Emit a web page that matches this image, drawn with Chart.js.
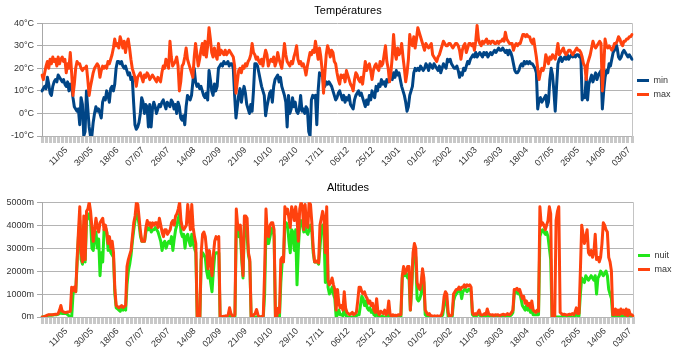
<!DOCTYPE html>
<html>
<head>
<meta charset="utf-8">
<script src="https://cdn.jsdelivr.net/npm/chart.js@4.4.1/dist/chart.umd.min.js"></script>
<style>
html,body{margin:0;padding:0;background:#fff;}
#wrap{position:relative;width:680px;height:350px;background:#fff;}
canvas{position:absolute;left:0;}
#c1{top:0;}
#c2{top:175px;}
</style>
</head>
<body>
<div id="wrap">
<canvas id="c1" width="680" height="175"></canvas>
<canvas id="c2" width="680" height="175"></canvas>
</div>
<script>
// ---- data ----
const tickLabels = ['11/05','30/05','18/06','07/07','26/07','14/08','02/09','21/09','10/10','29/10','17/11','06/12','25/12','13/01','01/02','20/02','11/03','30/03','18/04','07/05','26/05','14/06','03/07'];

const tMin = [
10,11,12,11,16,13,9,8,12,14,15,14,17,16,15,14,15,13,
12,14,10,13,12,7,3,2,1,2,-5,7,4,-10,-8,10,2,-6,-10,
-10,-4,0,3,1,2,0,-2,5,7,6,10,8,5,11,12,10,13,20,
23,23,22,23,21,20,21,19,17,18,15,16,5,-5,-7,-6,-4,0,7,
5,0,4,3,-6,4,-6,2,5,3,0,2,4,3,5,6,4,2,5,
4,3,6,5,2,4,0,5,3,-2,-3,-1,-5,3,8,7,6,8,14,
20,14,12,13,11,12,10,8,7,9,6,19,15,10,8,13,10,12,20,
21,22,21,23,22,22,23,21,22,22,20,8,-2,3,8,11,5,9,12,
9,4,2,0,4,1,10,22,22,21,18,15,12,10,8,-1,3,6,9,
10,5,12,15,16,17,14,16,12,10,8,5,-6,8,0,2,7,3,5,
1,0,2,8,1,2,0,3,2,-8,-10,6,8,7,8,-5,10,18,17,
18,13,12,14,13,14,13,12,10,8,6,7,9,10,8,6,8,5,7,
6,8,4,3,2,6,8,9,10,8,9,7,5,3,6,4,8,6,10,
8,7,12,10,13,12,15,13,14,12,15,14,16,17,15,18,16,19,17,
18,15,12,10,8,5,1,3,8,10,12,18,20,19,20,19,21,20,19,
20,22,21,19,22,21,20,22,21,20,19,21,18,20,22,21,20,24,23,
24,22,21,20,20,21,19,16,18,17,20,19,21,23,22,24,25,26,25,
27,25,26,27,26,25,27,26,27,25,26,27,26,27,28,27,28,29,28,
28,29,28,27,28,26,28,27,25,22,19,18,18,19,21,22,21,23,22,
23,22,23,22,22,21,20,18,2,6,7,5,6,7,8,3,5,15,20,
17,10,1,12,22,24,25,23,24,25,24,26,24,25,26,25,26,25,26,
26,25,26,6,8,7,16,6,13,15,17,14,16,18,15,17,18,19,2,
10,16,19,18,22,21,24,27,28,31,29,25,24,25,27,28,27,26,25,
26,25,24
];

const tMax = [
17,15,18,21,23,20,24,22,25,23,24,21,25,22,24,25,23,24,
18,22,20,27,18,8,13,20,23,22,22,20,19,20,20,21,15,8,12,
15,18,20,21,22,21,16,19,21,20,21,20,23,22,24,26,29,33,30,
31,29,34,32,29,32,27,31,33,29,24,20,18,16,12,16,17,18,16,
14,17,16,18,17,15,16,17,16,15,14,16,15,14,18,21,20,24,22,
20,32,25,21,22,23,25,21,10,14,21,22,25,29,24,22,20,18,16,
25,31,26,21,24,28,31,26,32,25,30,38,33,27,25,29,26,24,31,
26,28,27,26,28,26,27,28,27,26,25,21,9,14,19,20,18,21,20,
22,21,23,24,26,31,27,26,24,25,23,22,24,21,25,28,26,21,23,
24,23,25,21,23,27,24,22,20,25,31,26,23,22,21,23,22,25,27,
30,24,22,23,21,22,20,17,21,24,27,26,28,27,32,28,24,29,25,
19,9,18,26,30,28,25,28,27,23,22,18,15,13,17,16,17,14,19,
17,15,13,12,10,15,18,17,15,14,16,13,18,23,19,21,22,19,15,
19,21,22,20,19,23,21,22,26,30,23,20,14,18,25,35,27,24,29,
26,27,31,25,20,14,18,24,35,31,30,34,29,33,38,36,34,32,30,
28,31,30,29,30,31,26,25,24,23,25,26,28,30,32,31,30,30,31,
31,30,29,30,31,31,30,28,24,28,30,31,27,29,31,31,30,31,28,
32,39,33,31,30,32,31,32,33,31,32,31,32,32,31,31,32,31,32,
32,33,32,36,33,32,31,31,31,28,30,31,30,31,31,33,35,35,34,
35,34,34,32,31,33,29,25,20,15,18,20,19,21,26,24,22,25,24,
26,25,24,27,31,26,27,28,29,27,26,27,28,28,27,26,27,28,29,
28,28,27,25,22,21,15,22,24,26,29,32,30,29,30,31,32,31,10,
20,33,30,29,30,29,28,29,31,31,32,34,33,31,30,32,32,33,33,
34,34,35
];

const altNight = [
0,0,20,40,60,80,80,80,90,100,100,100,120,150,200,150,150,150,
150,100,50,0,0,1000,1200,1100,2300,3500,4200,2500,2300,4000,2400,4200,4300,4500,4200,
3000,2900,3500,3700,3000,3400,1800,2800,2400,3800,3900,3700,2900,3200,2800,2700,2600,1000,400,
350,300,250,400,300,350,300,1400,2000,2300,2700,3300,3800,4200,4500,4400,4000,3500,3300,
3300,3300,3700,3900,3800,3900,3700,3800,3800,3900,3800,3700,3500,3300,2900,3200,3300,3000,3200,
3300,3200,3500,2900,3400,3800,4000,4300,4500,3700,3500,3600,3000,3500,3600,3300,3100,3600,3200,
3000,2800,0,0,0,2500,2800,2700,2600,2000,1700,2000,1500,1100,2000,2700,2800,2800,2800,
0,0,0,0,0,0,0,100,0,0,0,0,4000,3800,3500,3700,2500,1700,4000,
4000,3500,2700,2400,0,0,0,0,0,0,0,0,0,0,1000,3800,3200,3200,3500,
3800,3900,3500,0,0,0,0,1500,2400,2500,4000,4100,4000,3300,2800,3800,3700,2900,3800,
1400,3000,4000,4200,4000,3700,4000,3700,3600,3800,4000,3700,2800,2400,2400,2400,2300,3000,3800,
4000,3600,1500,4000,1300,1000,1100,1300,1000,800,0,100,300,100,100,50,400,100,0,
0,0,0,0,0,0,50,100,100,500,900,800,500,700,400,300,400,200,300,
100,50,200,50,0,0,50,0,0,0,50,100,0,0,0,0,0,0,0,
0,0,1700,1900,1800,1900,1700,1700,300,1200,2500,2900,2600,800,700,800,1000,1900,1500,
100,50,0,0,0,0,0,0,0,0,0,0,0,100,500,800,700,0,0,
0,0,700,900,1000,1100,1100,1200,800,1100,1200,1200,1100,1200,1200,1100,100,50,50,
50,100,100,50,0,50,50,0,100,50,0,0,50,0,0,0,50,0,0,
0,50,0,0,50,0,50,100,200,1000,1100,1100,1000,1100,800,500,400,300,500,
300,400,200,300,100,100,100,100,100,3500,3700,3800,3700,3600,3700,3500,3000,2500,0,
0,0,0,0,0,0,0,50,0,0,0,0,50,0,0,0,50,100,50,
50,1000,1700,1600,1500,1800,1700,1600,1700,1800,1700,1600,1800,1000,1700,1800,2000,1900,1800,
1900,2000,1800,1200,1000,800,0,50,100,0,50,0,100,0,50,0,100,0,50,
0,0,0
];

const altMax = [
0,0,30,50,80,100,100,100,100,110,120,120,150,300,500,250,220,200,
200,220,230,250,1300,1150,1300,1100,2500,3700,4800,2800,2400,4400,2500,4600,4700,5000,4600,
3900,3300,3800,4300,3900,3700,4100,4200,4300,3800,4000,3700,3200,3500,3000,3300,2800,1200,500,
450,400,450,500,420,450,500,2200,2500,2700,2900,3500,4100,4400,5000,4900,4300,3700,3300,
3300,3300,3900,4200,4000,4100,3900,4100,4000,4100,4100,3900,4300,4000,3700,3500,3800,3800,3600,
3700,3800,4100,4200,4000,4400,4500,4700,5000,4200,3900,3800,3900,4000,4900,4300,3800,4900,3900,
3500,3200,0,0,0,2800,3600,3700,3500,2900,2100,2900,2400,1800,2700,3300,3500,3400,3500,
0,0,20,30,50,30,100,400,150,50,30,100,4700,4000,3800,4000,2700,1800,4400,
4400,4300,2800,2500,0,0,100,150,330,100,0,0,20,50,2000,4700,3600,3500,4000,
4100,4100,3800,0,0,380,200,2500,2600,2400,4800,4500,4700,4300,3900,4800,4600,4200,4800,
4300,3300,4700,5000,4800,3800,4900,4000,3900,5000,4900,4100,3000,2400,2400,2450,2350,4000,4300,
4600,4300,2800,4800,1600,1400,1500,1700,1400,1200,300,1200,600,400,500,300,1100,400,200,
150,100,150,200,100,150,200,700,1300,1300,1100,1000,1100,900,800,600,700,500,600,
300,200,800,200,100,250,200,150,300,100,200,700,100,50,100,50,80,60,100,
80,100,1800,2200,1900,2000,2200,2200,300,1500,2800,3200,3000,1500,1300,1200,1500,2100,1700,
300,200,100,150,50,50,30,50,20,50,30,50,80,300,900,1100,1000,200,0,
50,100,1000,1100,1200,1200,1300,1200,1300,1300,1400,1300,1400,1350,1400,1300,200,100,150,
100,200,300,100,80,100,150,100,350,150,100,80,100,50,100,80,100,60,80,
100,120,80,100,150,100,120,200,300,1200,1200,1250,1150,1200,1000,800,900,600,700,
500,600,400,700,300,250,200,300,250,4800,4000,4100,4000,3800,4000,4200,4800,4500,0,
0,0,4200,4600,4800,200,150,100,120,100,80,100,120,100,150,100,200,400,150,
150,2000,4000,3600,3200,3500,3800,2800,2700,2900,2600,2800,3600,2500,2600,2400,2600,3200,4100,
4000,3800,3700,2600,2400,2000,100,100,350,100,300,100,350,150,300,100,350,50,300,
100,100,50
];

// day categories (one per day, starting 23/04)
const categories = [];
for (let i = 0; i < tMin.length; i++) {
  const d = new Date(Date.UTC(2009, 3, 23 + i));
  categories.push(String(d.getUTCDate()).padStart(2, '0') + '/' + String(d.getUTCMonth() + 1).padStart(2, '0'));
}
const firstLabelIndex = 18, labelStep = 19;

// ---- styling ----
Chart.defaults.font.family = '"Liberation Sans", Arial, sans-serif';
Chart.defaults.font.size = 9;
Chart.defaults.color = '#333';

const CLEAR = 'rgba(0,0,0,0)';
const N = categories.length;

function buildOptions(cfg) {
  return {
    responsive: false,
    animation: false,
    events: [],
    layout: { padding: { left: 16, right: 0, top: 0, bottom: 0 } },
    plugins: {
      title: { display: true, text: cfg.title, color: '#000', font: { size: 11, weight: 'normal' },
               padding: { top: cfg.titleTop, bottom: cfg.titleBottom } },
      legend: {
        position: 'right', align: 'center', maxWidth: cfg.legendWidth,
        labels: {
          boxWidth: 12, boxHeight: 3, padding: 5, color: '#333', font: { size: 9 },
          generateLabels: ch => ch.data.datasets.map((ds, i) => ({
            text: ds.label, fillStyle: ds.borderColor, strokeStyle: ds.borderColor,
            lineWidth: 0, hidden: false, datasetIndex: i, fontColor: '#333'
          }))
        }
      },
      tooltip: { enabled: false }
    },
    scales: {
      x: {
        type: 'category', offset: false,
        border: { display: false },
        grid: {
          drawOnChartArea: true, drawTicks: true, tickLength: 7,
          color: c => (c.index === N - 1 ? '#c4c4c4' : CLEAR),
          lineWidth: 1,
          tickColor: c => (c.index % 3 === 0 ? '#c8c8c8' : CLEAR),
          tickWidth: 3
        },
        ticks: {
          autoSkip: false, minRotation: 45, maxRotation: 45, padding: 2, color: '#333', font: { size: 9 },
          callback: (v, i) => {
            const k = (i - firstLabelIndex) / labelStep;
            return (Number.isInteger(k) && k >= 0 && k < tickLabels.length) ? tickLabels[k] : '';
          }
        },
        afterFit: s => { s.height = cfg.xHeight; }
      },
      y: {
        min: cfg.min, max: cfg.max,
        border: { display: true, color: '#a8a8a8' },
        grid: {
          color: c => (c.tick && c.tick.value % cfg.major === 0 ? '#b4b4b4' : '#e0e0e0'),
          tickColor: c => (c.tick && c.tick.value % cfg.major === 0 ? '#a8a8a8' : CLEAR),
          tickLength: 5, lineWidth: 1
        },
        ticks: {
          stepSize: cfg.step, padding: 3, color: '#333', font: { size: 9 },
          callback: v => (v % cfg.major === 0 ? cfg.fmt(v) : '')
        },
        afterFit: s => {
          s.width = 26;
          // let the tick labels extend into the left padding instead of being clipped
          s._computeLabelArea = () => undefined;
        }
      }
    }
  };
}

function lineDs(label, data, color, order) {
  return { label, data, borderColor: color, backgroundColor: color, borderWidth: 3,
           pointRadius: 0, tension: 0, fill: false, borderJoinStyle: 'round', borderCapStyle: 'round', order };
}

new Chart(document.getElementById('c1'), {
  type: 'line',
  data: { labels: categories, datasets: [
    lineDs('min', tMin, '#004586', 1),
    lineDs('max', tMax, '#ff420e', 0)
  ] },
  options: buildOptions({ title: 'Températures', titleTop: 4, titleBottom: 6, legendWidth: 48, xHeight: 39,
    min: -10, max: 40, step: 5, major: 10, fmt: v => v + '°C' })
});

new Chart(document.getElementById('c2'), {
  type: 'line',
  data: { labels: categories, datasets: [
    lineDs('nuit', altNight, '#22e61a', 1),
    lineDs('max', altMax, '#ff420e', 0)
  ] },
  options: buildOptions({ title: 'Altitudes', titleTop: 6, titleBottom: 8, legendWidth: 47, xHeight: 33,
    min: 0, max: 5000, step: 500, major: 1000, fmt: v => v + 'm' })
});
</script>
</body>
</html>
